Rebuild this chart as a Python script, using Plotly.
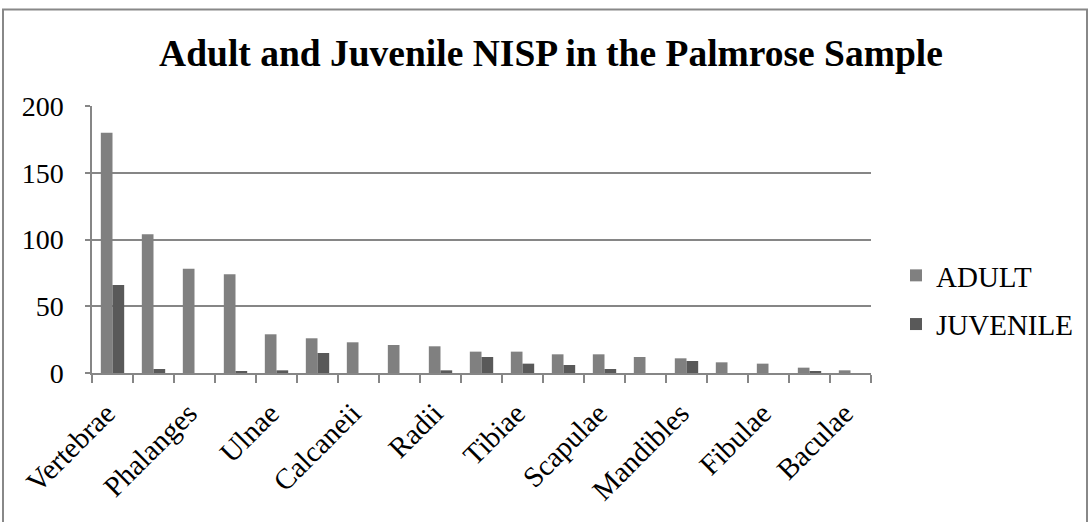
import plotly.graph_objects as go

# Skeletal elements, in order of adult count
elements = [
    "Vertebrae", "Ribs", "Phalanges", "Metapodials", "Ulnae", "Humeri",
    "Calcaneii", "Femora", "Radii", "Pelves", "Tibiae", "Astragali",
    "Scapulae", "Crania", "Mandibles", "Carpals", "Fibulae", "Tarsals", "Baculae",
]
adult = [180, 104, 78, 74, 29, 26, 23, 21, 20, 16, 16, 14, 14, 12, 11, 8, 7, 4, 2]
juvenile = [66, 3, 0, 1, 2, 15, 0, 0, 2, 12, 7, 6, 3, 0, 9, 0, 0, 1, 0]
y_ticks = [0, 50, 100, 150, 200]

# every second element name is printed under the axis
tick_text = [name if i % 2 == 0 else "" for i, name in enumerate(elements)]

FONT = "Liberation Serif, Times New Roman, serif"
GRID = "#868686"

fig = go.Figure()
fig.add_trace(go.Bar(name="ADULT", x=elements, y=adult, legendgroup="a",
                     marker=dict(color="#808080", line=dict(width=0))))
fig.add_trace(go.Bar(name="JUVENILE", x=elements, y=juvenile, legendgroup="j",
                     marker=dict(color="#595959", line=dict(width=0))))

W, H = 1090, 522
ml, mr, mt, mb = 92, 219, 106, 149
pw, ph = W - ml - mr, H - mt - mb


def px_x(p):
    return (p - ml) / pw


def px_y(p):
    return (H - mb - p) / ph


fig.update_layout(
    width=W, height=H,
    margin=dict(l=ml, r=mr, t=mt, b=mb),
    paper_bgcolor="white", plot_bgcolor="white",
    barmode="group", bargap=0.43, bargroupgap=0,
    font=dict(family=FONT, size=28, color="black"),
    title=dict(text="<b>Adult and Juvenile NISP in the Palmrose Sample</b>",
               font=dict(family=FONT, size=37.5, color="black"),
               x=551 / W, xanchor="center", y=1 - 53 / H, yanchor="middle"),
    legend=dict(x=px_x(896), xanchor="left",
                y=px_y(250), yanchor="top",
                font=dict(family=FONT, size=29, color="black"),
                bgcolor="rgba(0,0,0,0)", tracegroupgap=8,
                traceorder="grouped"),
    showlegend=True,
)

fig.update_xaxes(
    type="category", range=[-0.5, len(elements) - 0.5],
    tickmode="array", tickvals=elements, ticktext=tick_text,
    tickson="boundaries", ticks="outside", ticklen=8, tickwidth=1.5,
    tickcolor=GRID, tickangle=-45,
    ticklabelstandoff=10, ticklabelshift=-6,
    showline=True, linecolor=GRID, linewidth=1.5,
    showgrid=False, tickfont=dict(family=FONT, size=29, color="black"),
)
fig.update_yaxes(
    range=[0, 200], tickmode="array", tickvals=y_ticks,
    ticks="outside", ticklen=5, tickwidth=1.5, tickcolor=GRID,
    showline=True, linecolor=GRID, linewidth=1.5,
    showgrid=True, gridcolor=GRID, gridwidth=1.5, zeroline=False,
    ticklabelstandoff=16,
    tickfont=dict(family=FONT, size=28, color="black"),
)

# chart frame around the whole figure area
fig.add_shape(type="rect", xref="paper", yref="paper",
              x0=px_x(3), x1=px_x(1087),
              y0=px_y(H + 6), y1=px_y(9.5),
              line=dict(color="#888888", width=2), fillcolor="rgba(0,0,0,0)",
              layer="below")

fig.write_html("out.html")
